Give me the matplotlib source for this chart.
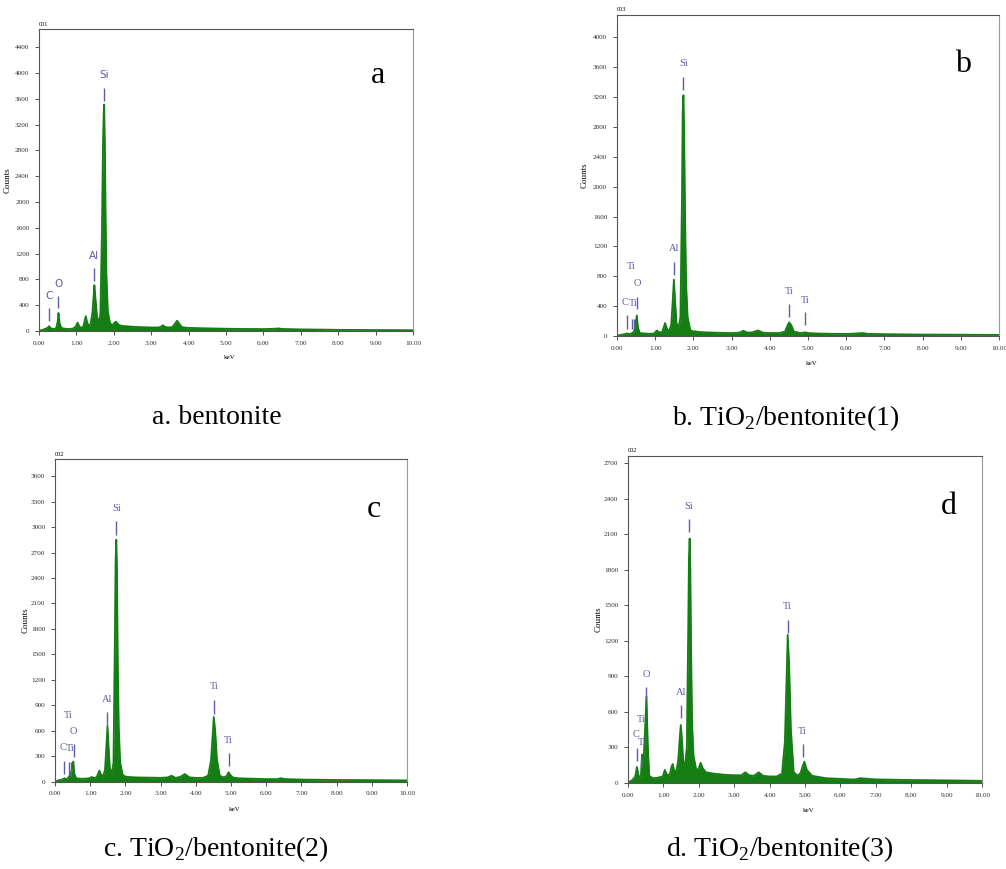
import numpy as np
import matplotlib.pyplot as plt

# EDS spectra outlines (keV, counts)
a_kev = [0.00, 0.08, 0.15, 0.22, 0.27, 0.32, 0.40, 0.46, 0.50, 0.52, 0.55, 0.60, 0.70, 0.80, 0.92,
         0.98, 1.03, 1.08, 1.14, 1.19, 1.22, 1.25, 1.28, 1.33, 1.38, 1.43, 1.46, 1.48, 1.51, 1.55,
         1.60, 1.64, 1.68, 1.71, 1.73, 1.74, 1.76, 1.78, 1.80, 1.84, 1.90, 1.96, 2.02, 2.06, 2.12,
         2.20, 2.40, 2.70, 3.00, 3.20, 3.27, 3.31, 3.36, 3.45, 3.56, 3.63, 3.69, 3.75, 3.82, 3.95,
         4.20, 4.60, 5.00, 5.50, 6.00, 6.30, 6.40, 6.50, 7.00, 7.50, 8.00, 9.00, 10.0]
a_cts = [5, 15, 30, 45, 75, 40, 30, 45, 150, 280, 120, 45, 35, 30, 40,
         70, 130, 70, 45, 80, 160, 230, 150, 70, 110, 300, 550, 710, 500, 220,
         130, 260, 1500, 2900, 3400, 3510, 2900, 1800, 900, 300, 120, 90, 130, 145, 100,
         80, 70, 60, 55, 55, 70, 90, 65, 55, 60, 110, 160, 110, 60, 50,
         45, 40, 35, 32, 30, 35, 40, 32, 25, 22, 18, 15, 12]

b_kev = [0.00, 0.10, 0.20, 0.27, 0.33, 0.40, 0.45, 0.49, 0.52, 0.55, 0.60, 0.70, 0.85, 0.98, 1.04,
         1.10, 1.18, 1.22, 1.26, 1.30, 1.36, 1.42, 1.46, 1.49, 1.52, 1.56, 1.61, 1.66, 1.70, 1.72,
         1.74, 1.76, 1.78, 1.81, 1.85, 1.92, 2.00, 2.05, 2.12, 2.30, 2.60, 3.00, 3.20, 3.31, 3.42,
         3.55, 3.69, 3.82, 4.00, 4.25, 4.40, 4.47, 4.51, 4.56, 4.63, 4.80, 4.88, 4.93, 5.00, 5.20,
         5.60, 6.00, 6.30, 6.42, 6.55, 7.00, 8.00, 9.00, 10.0]
b_cts = [5, 15, 25, 35, 25, 40, 60, 180, 277, 110, 40, 35, 30, 35, 75,
         50, 50, 110, 175, 110, 60, 150, 480, 755, 480, 170, 110, 250, 1800, 3000,
         3226, 2700, 1700, 700, 250, 80, 60, 65, 55, 50, 45, 40, 45, 70, 45,
         50, 75, 45, 40, 40, 60, 150, 183, 150, 60, 40, 45, 50, 40, 35,
         30, 28, 35, 40, 30, 25, 20, 18, 15]

c_kev = [0.00, 0.10, 0.20, 0.27, 0.33, 0.40, 0.45, 0.49, 0.52, 0.55, 0.60, 0.70, 0.85, 0.98, 1.04,
         1.10, 1.18, 1.22, 1.26, 1.30, 1.36, 1.42, 1.46, 1.49, 1.52, 1.56, 1.61, 1.66, 1.70, 1.72,
         1.74, 1.76, 1.78, 1.81, 1.85, 1.92, 2.00, 2.10, 2.30, 2.60, 3.00, 3.20, 3.31, 3.42, 3.55,
         3.69, 3.82, 4.00, 4.20, 4.35, 4.43, 4.48, 4.51, 4.55, 4.60, 4.68, 4.80, 4.88, 4.93, 4.98,
         5.05, 5.20, 5.60, 6.00, 6.30, 6.42, 6.55, 7.00, 8.00, 9.00, 10.0]
c_cts = [5, 15, 25, 40, 25, 60, 100, 160, 237, 90, 40, 35, 35, 40, 55,
         45, 50, 90, 130, 90, 60, 140, 420, 657, 420, 150, 100, 220, 1700, 2600,
         2852, 2500, 1500, 650, 230, 80, 60, 55, 50, 48, 45, 50, 70, 45, 55,
         90, 50, 45, 45, 70, 250, 560, 763, 600, 260, 70, 50, 70, 110, 80,
         50, 40, 35, 30, 30, 40, 30, 25, 20, 18, 15]

d_kev = [0.00, 0.10, 0.20, 0.25, 0.30, 0.36, 0.40, 0.44, 0.48, 0.52, 0.56, 0.60, 0.70, 0.85, 0.98,
         1.04, 1.10, 1.18, 1.22, 1.26, 1.30, 1.36, 1.42, 1.46, 1.49, 1.52, 1.56, 1.61, 1.66, 1.70,
         1.72, 1.74, 1.76, 1.78, 1.81, 1.85, 1.92, 1.98, 2.05, 2.12, 2.20, 2.40, 2.70, 3.00, 3.20,
         3.31, 3.42, 3.55, 3.69, 3.82, 4.00, 4.20, 4.35, 4.43, 4.48, 4.51, 4.55, 4.60, 4.68, 4.80,
         4.88, 4.93, 4.98, 5.05, 5.20, 5.60, 6.00, 6.30, 6.42, 6.55, 7.00, 8.00, 9.00, 10.0]
d_cts = [5, 20, 50, 135, 60, 50, 240, 200, 450, 730, 300, 60, 40, 45, 55,
         110, 70, 70, 130, 160, 110, 90, 200, 380, 490, 380, 180, 150, 300, 1300,
         1900, 2063, 1800, 1150, 500, 230, 120, 110, 170, 120, 90, 80, 70, 65, 65,
         90, 65, 60, 90, 60, 55, 55, 80, 350, 900, 1250, 1000, 450, 90, 60,
         90, 140, 180, 110, 60, 40, 35, 30, 30, 40, 30, 25, 22, 18]

# peak labels: name, x of text, y of text
a_lab = [("Si", 1.74, 3960), ("Al", 1.48, 1160), ("O", 0.52, 732), ("C", 0.27, 541)]
b_lab = [("Si", 1.74, 3650), ("Al", 1.49, 1170), ("Ti", 0.37, 925), ("O", 0.53, 710),
         ("C", 0.22, 450), ("Ti", 0.42, 433), ("Ti", 4.51, 603), ("Ti", 4.93, 478)]
c_lab = [("Si", 1.74, 3216), ("Al", 1.49, 973), ("Ti", 0.38, 775), ("O", 0.53, 597),
         ("C", 0.24, 407), ("Ti", 0.42, 388), ("Ti", 4.51, 1119), ("Ti", 4.93, 487)]
d_lab = [("Si", 1.72, 2335), ("Al", 1.49, 763), ("O", 0.52, 918), ("Ti", 0.36, 539),
         ("C", 0.24, 413), ("Ti", 0.40, 342), ("Ti", 4.49, 1487), ("Ti", 4.92, 432)]
# marker lines: x, y bottom, y top
a_mk = [(1.74, 3560, 3760), (1.48, 780, 970), (0.52, 350, 550), (0.27, 160, 350)]
b_mk = [(1.74, 3290, 3470), (1.49, 813, 990), (0.52, 366, 520), (0.25, 100, 277),
        (0.40, 100, 230), (0.45, 100, 230), (4.51, 255, 433), (4.93, 143, 322)]
c_mk = [(1.74, 2911, 3078), (1.49, 665, 823), (0.53, 289, 447), (0.26, 91, 249),
        (0.40, 71, 230), (0.44, 71, 230), (4.51, 803, 961), (4.93, 182, 340)]
d_mk = [(1.72, 2119, 2231), (1.49, 547, 660), (0.52, 702, 808), (0.25, 182, 295),
        (0.38, 126, 210), (4.51, 1263, 1375), (4.93, 219, 331)]

panels = [
    dict(kev=a_kev, cts=a_cts, lab=a_lab, mk=a_mk, rect=[0.0388, 0.6191, 0.3718, 0.3475],
         ylim=4680, yt=np.arange(0, 4401, 400), tag="001", letter="a",
         cap="a. bentonite", cx=217, cy=418),
    dict(kev=b_kev, cts=b_cts, lab=b_lab, mk=b_mk, rect=[0.6133, 0.6133, 0.3797, 0.3694],
         ylim=4300, yt=np.arange(0, 4001, 400), tag="003", letter="b",
         cap="b. TiO$_\\mathregular{2}$/bentonite(1)", cx=786, cy=418),
    dict(kev=c_kev, cts=c_cts, lab=c_lab, mk=c_mk, rect=[0.0547, 0.1005, 0.3499, 0.3710],
         ylim=3800, yt=np.arange(0, 3601, 300), tag="002", letter="c",
         cap="c. TiO$_\\mathregular{2}$/bentonite(2)", cx=216, cy=849),
    dict(kev=d_kev, cts=d_cts, lab=d_lab, mk=d_mk, rect=[0.6243, 0.0990, 0.3519, 0.3763],
         ylim=2760, yt=np.arange(0, 2701, 300), tag="002", letter="d",
         cap="d. TiO$_\\mathregular{2}$/bentonite(3)", cx=780, cy=849),
]

green = "#147d14"
blue = "#5c5ca8"
serif = "Liberation Serif"

fig = plt.figure(figsize=(10.06, 8.69), dpi=100)

for i, p in enumerate(panels):
    ax = fig.add_axes(p["rect"])
    ax.fill_between(p["kev"], p["cts"], 0, color=green, lw=0)
    ax.plot(p["kev"], p["cts"], color=green, lw=1.3)
    ax.set_xlim(0, 10)
    ax.set_ylim(0, p["ylim"])
    ax.set_xticks(np.arange(0, 10.01, 1))
    ax.set_xticklabels(["%.2f" % v for v in np.arange(0, 10.01, 1)], fontsize=5.2, family=serif)
    ax.set_yticks(p["yt"])
    ax.set_yticklabels([str(v) for v in p["yt"]], fontsize=5.2, family=serif)
    ax.tick_params(length=3, width=0.6, colors="#333333", pad=4)
    for s in ax.spines.values():
        s.set_color("#555555")
        s.set_linewidth(0.8)
    ax.spines["right"].set_color("#999999")
    ax.set_ylabel("Counts", fontsize=6.5, family=serif)
    ax.yaxis.set_label_coords(-0.073, 0.5)
    ax.set_xlabel("keV", fontsize=5, family=serif)
    ax.xaxis.set_label_coords(0.51, -0.078)
    ax.text(0.0, 1.008, p["tag"], transform=ax.transAxes, fontsize=4.5, family=serif, va="bottom")
    ax.text(0.905, 0.845, p["letter"], transform=ax.transAxes, fontsize=23, family=serif,
            ha="center", va="center")
    fam = "DejaVu Sans" if i == 0 else serif
    for name, x, y in p["lab"]:
        ax.text(x, y, name, color=blue, fontsize=7.5, family=fam, ha="center", va="center")
    for x, y0, y1 in p["mk"]:
        ax.vlines(x, y0, y1, color=blue, lw=1.0)
    fig.text(p["cx"] / 1006, 1 - p["cy"] / 869, p["cap"], fontsize=20, family=serif,
             ha="center", va="center")

fig.savefig("out.png", dpi=100)
